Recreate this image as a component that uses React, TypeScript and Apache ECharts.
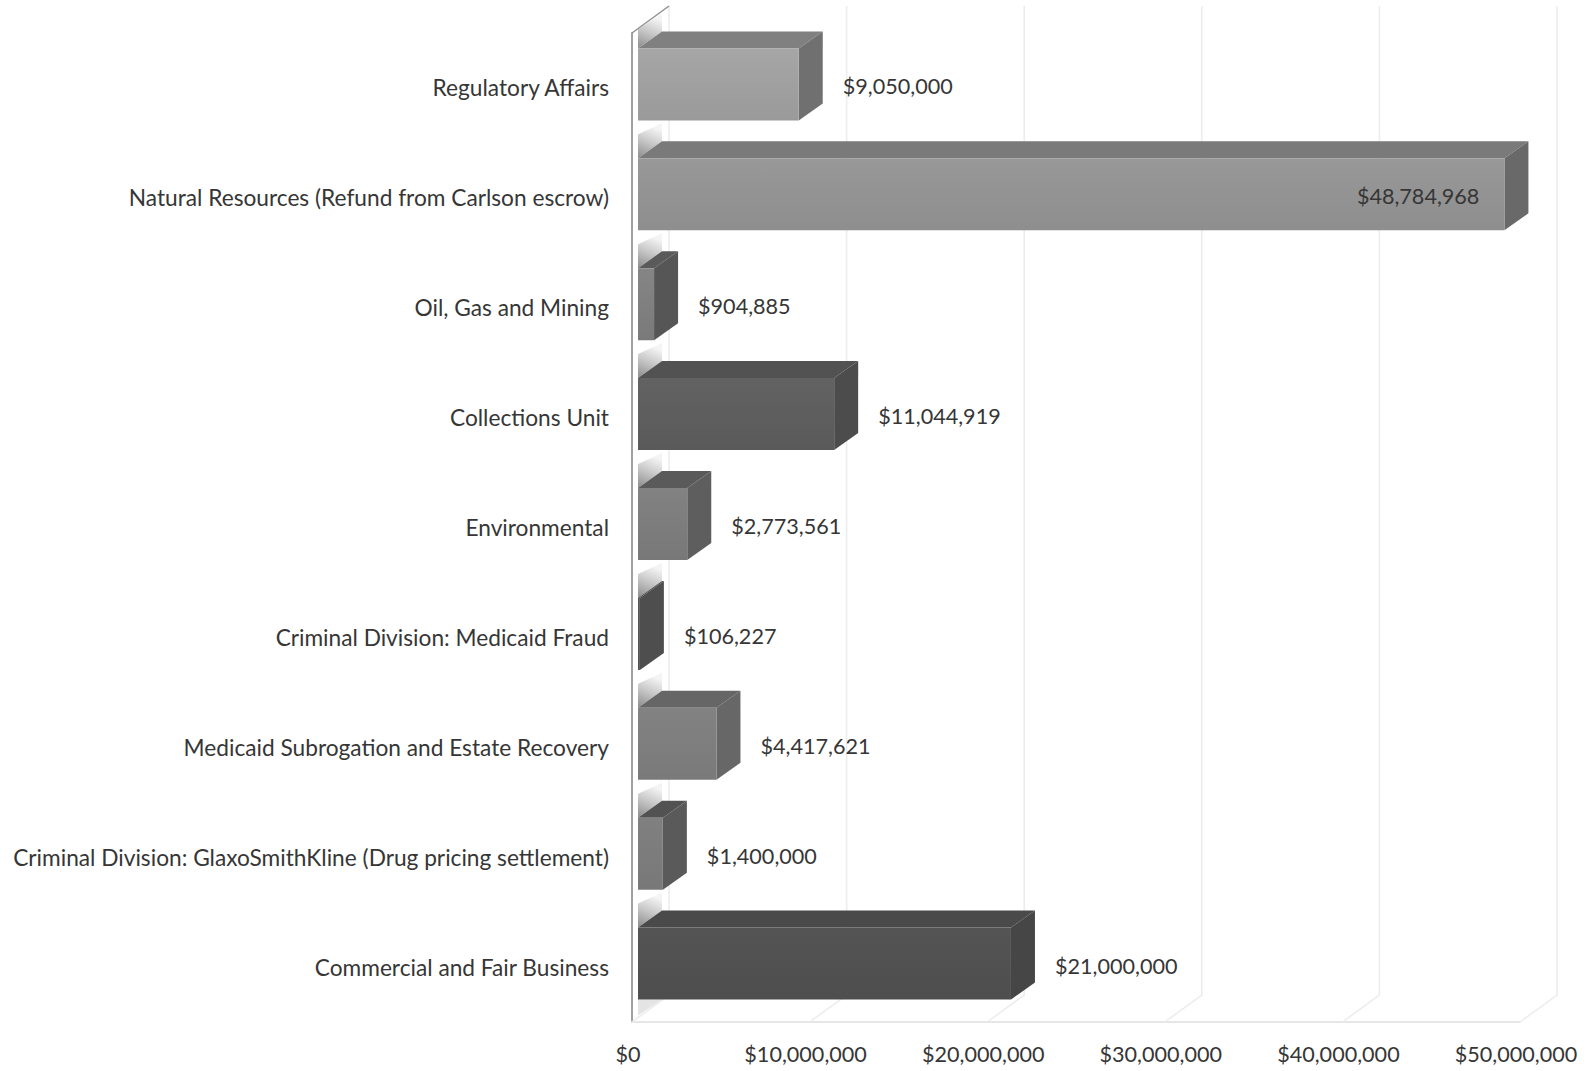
import React, { useEffect, useRef } from "react";
import * as echarts from "echarts";

const categories = [
  "Regulatory Affairs",
  "Natural Resources (Refund from Carlson escrow)",
  "Oil, Gas and Mining",
  "Collections Unit",
  "Environmental",
  "Criminal Division: Medicaid Fraud",
  "Medicaid Subrogation and Estate Recovery",
  "Criminal Division: GlaxoSmithKline (Drug pricing settlement)",
  "Commercial and Fair Business",
];
const amounts = [9050000, 48784968, 904885, 11044919, 2773561, 106227, 4417621, 1400000, 21000000];
const axisTicks = [0, 10000000, 20000000, 30000000, 40000000, 50000000];
const labelsInside = ["Natural Resources (Refund from Carlson escrow)"];

// [front top, front bottom, top face, side face]
const shades = [
  ["#a6a6a6", "#9a9a9a", "#808080", "#707070"],
  ["#989898", "#8e8e8e", "#7a7a7a", "#696969"],
  ["#858585", "#7a7a7a", "#5a5a5a", "#565656"],
  ["#626262", "#5a5a5a", "#525252", "#4c4c4c"],
  ["#828282", "#787878", "#5a5a5a", "#5e5e5e"],
  ["#555555", "#505050", "#4e4e4e", "#4e4e4e"],
  ["#828282", "#7a7a7a", "#666666", "#676767"],
  ["#808080", "#787878", "#525252", "#5a5a5a"],
  ["#545454", "#4e4e4e", "#4a4a4a", "#464646"],
];

const FONT_SIZE = 21.6;
const CATEGORY_FONT_SIZE = 22.7;
const FONT_FAMILY = "Lato";
const FONT = `${FONT_SIZE}px ${FONT_FAMILY}`;
const TEXT = "#363636";
const fmt = (v: number) => "$" + v.toLocaleString("en-US");

const BAR_H = 72;
const BASE_DX = 6;
const FRONT_DY = -3.5;
const DEPTH_X = 24;
const DEPTH_Y = 17;
const WALL_X = 37;
const WALL_Y = 27;
const LABEL_GAP = 20;

function renderBar(params: any, api: any) {
  const i = api.value(1);
  const value = api.value(0);
  const zero = api.coord([0, i]);
  const end = api.coord([value, i]);
  const x0 = zero[0] + BASE_DX;
  const x1 = end[0] + BASE_DX;
  const cy = zero[1] + FRONT_DY;
  const yT = cy - BAR_H / 2;
  const yB = cy + BAR_H / 2;
  const s = shades[i];
  const inside = labelsInside.includes(categories[i]);
  const wallTopLeft = params.coordSys.y - (WALL_Y * BASE_DX) / WALL_X + 1;
  const wallShade = (stops: [number, string][]) =>
    new echarts.graphic.LinearGradient(0, 1, 0.3, 0, stops.map(([offset, color]) => ({ offset, color })));
  const children: any[] = [
    {
      type: "polygon",
      shape: {
        points: [
          [x0, yT],
          [x0 + DEPTH_X, yT - DEPTH_Y],
          [x0 + DEPTH_X, yT - DEPTH_Y - 18],
          [x0, Math.max(yT - 24, wallTopLeft)],
        ],
      },
      style: {
        fill: wallShade([
          [0, "#8a8a8a"],
          [0.55, "#c8c8c8"],
          [1, "#f4f4f4"],
        ]),
      },
    },
  ];
  if (i === categories.length - 1) {
    children.push({
      type: "polygon",
      shape: { points: [[x0, yB], [x0 + DEPTH_X, yB], [x0, yB + 16]] },
      style: { fill: "#e4e4e4" },
    });
  }
  children.push(
    {
      type: "polygon",
      shape: { points: [[x0, yT], [x1, yT], [x1 + DEPTH_X, yT - DEPTH_Y], [x0 + DEPTH_X, yT - DEPTH_Y]] },
      style: { fill: s[2] },
    },
    {
      type: "polygon",
      shape: { points: [[x1, yT], [x1 + DEPTH_X, yT - DEPTH_Y], [x1 + DEPTH_X, yB - DEPTH_Y], [x1, yB]] },
      style: { fill: s[3] },
    },
    {
      type: "rect",
      shape: { x: x0, y: yT, width: x1 - x0, height: yB - yT },
      style: {
        fill: new echarts.graphic.LinearGradient(0, 0, 0, 1, [
          { offset: 0, color: s[0] },
          { offset: 1, color: s[1] },
        ]),
      },
    },
    {
      type: "text",
      style: {
        text: fmt(value),
        x: inside ? x1 - 25 : x1 + DEPTH_X + LABEL_GAP,
        y: cy + 2,
        align: inside ? "right" : "left",
        verticalAlign: "middle",
        fill: TEXT,
        font: FONT,
      },
    }
  );
  return { type: "group", children };
}

function renderGrid(params: any, api: any) {
  const v = api.value(0);
  const x = api.coord([v, 0])[0];
  const cs = params.coordSys;
  const bottom = cs.y + cs.height;
  return {
    type: "polyline",
    shape: {
      points: [
        [x + WALL_X, cs.y - WALL_Y],
        [x + WALL_X, bottom - WALL_Y],
        [x, bottom],
      ],
    },
    style: { stroke: "#ececec", lineWidth: 1.5, fill: "none" },
  };
}

function renderWallEdge(params: any, api: any) {
  const x = api.coord([0, 0])[0];
  const cs = params.coordSys;
  return {
    type: "line",
    shape: { x1: x, y1: cs.y, x2: x + WALL_X, y2: cs.y - WALL_Y },
    style: { stroke: "#909090", lineWidth: 1.5 },
  };
}

export default function App() {
  const ref = useRef<HTMLDivElement>(null);
  useEffect(() => {
    const chart = echarts.init(ref.current!, null, { renderer: "svg" });
    chart.setOption({
      animation: false,
      backgroundColor: "#ffffff",
      grid: { left: 632, top: 33, width: 888, height: 989, containLabel: false },
      xAxis: {
        type: "value",
        min: 0,
        max: 50000000,
        interval: 10000000,
        axisLine: { show: true, lineStyle: { color: "#e6e6e6", width: 2 } },
        axisTick: { show: false },
        splitLine: { show: false },
        axisLabel: {
          margin: 21,
          formatter: (v: number) => fmt(v),
          fontSize: FONT_SIZE,
          fontFamily: FONT_FAMILY,
          color: TEXT,
          padding: [0, 8, 0, 0],
          showMinLabel: true,
          showMaxLabel: true,
        },
      },
      yAxis: {
        type: "category",
        inverse: true,
        data: categories,
        axisLine: { show: true, lineStyle: { color: "#a0a0a0", width: 2 } },
        axisTick: { show: false },
        splitLine: { show: false },
        axisLabel: {
          margin: 23,
          fontSize: CATEGORY_FONT_SIZE,
          fontFamily: FONT_FAMILY,
          color: TEXT,
          padding: [19, 0, 0, 0],
          interval: 0,
        },
      },
      series: [
        {
          type: "custom",
          clip: false,
          z: 1,
          silent: true,
          renderItem: renderGrid,
          data: axisTicks.map((v) => [v]),
          encode: { x: 0 },
        },
        {
          type: "custom",
          clip: false,
          z: 3,
          silent: true,
          renderItem: renderBar,
          data: amounts.map((v, i) => [v, i]),
          encode: { x: 0, y: 1 },
        },
        {
          type: "custom",
          clip: false,
          z: 4,
          silent: true,
          renderItem: renderWallEdge,
          data: [[0]],
          encode: { x: 0 },
        },
      ],
    });
    return () => chart.dispose();
  }, []);
  return <div ref={ref} style={{ position: "fixed", left: 0, top: 0, width: 1591, height: 1071 }} />;
}
